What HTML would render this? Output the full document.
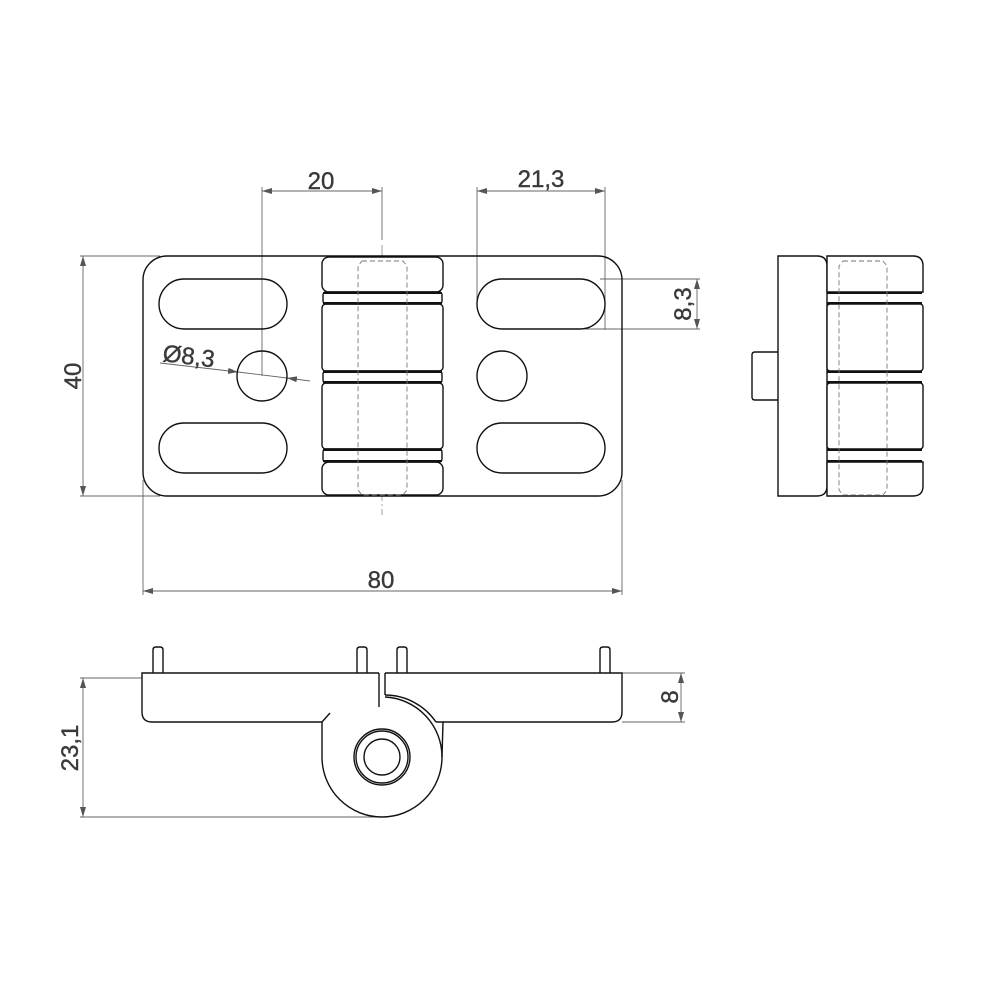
<!DOCTYPE html>
<html><head><meta charset="utf-8"><style>
html,body{margin:0;padding:0;background:#fff}
svg{display:block}
text{font-family:"Liberation Sans",sans-serif;fill:#3a3a3a;font-size:24px;stroke:#3a3a3a;stroke-width:0.4}
</style></head><body>
<svg width="1000" height="1000" viewBox="0 0 1000 1000" xmlns="http://www.w3.org/2000/svg">
<defs>
<marker id="a" viewBox="0 0 10 6" refX="10" refY="3" markerWidth="10" markerHeight="6" orient="auto-start-reverse" markerUnits="userSpaceOnUse"><path d="M0,0 L10,3 L0,6 z" fill="#555"/></marker>
</defs>
<g stroke="#666" stroke-width="0.9" fill="none">
<line x1="262" y1="187" x2="262" y2="376"/>
<line x1="382" y1="187" x2="382" y2="240"/>
<line x1="477" y1="187" x2="477" y2="300"/>
<line x1="605" y1="187" x2="605" y2="330"/>
<line x1="262" y1="191" x2="382" y2="191" marker-start="url(#a)" marker-end="url(#a)"/>
<line x1="477" y1="191" x2="605" y2="191" marker-start="url(#a)" marker-end="url(#a)"/>
<line x1="600" y1="279" x2="700" y2="279"/>
<line x1="580" y1="329" x2="700" y2="329"/>
<line x1="697" y1="279" x2="697" y2="329" marker-start="url(#a)" marker-end="url(#a)"/>
<line x1="80" y1="256" x2="160" y2="256"/>
<line x1="80" y1="496" x2="160" y2="496"/>
<line x1="83" y1="256" x2="83" y2="496" marker-start="url(#a)" marker-end="url(#a)"/>
<line x1="143" y1="480" x2="143" y2="595"/>
<line x1="622" y1="480" x2="622" y2="595"/>
<line x1="143" y1="591" x2="622" y2="591" marker-start="url(#a)" marker-end="url(#a)"/>
<line x1="160" y1="363" x2="238" y2="372" marker-end="url(#a)"/>
<line x1="238" y1="372" x2="287" y2="378"/>
<line x1="310" y1="381" x2="287" y2="378" marker-end="url(#a)"/>
<line x1="80" y1="678" x2="142" y2="678"/>
<line x1="80" y1="817" x2="382" y2="817"/>
<line x1="83" y1="678" x2="83" y2="817" marker-start="url(#a)" marker-end="url(#a)"/>
<line x1="622" y1="673" x2="685" y2="673"/>
<line x1="622" y1="722" x2="685" y2="722"/>
<line x1="681" y1="673" x2="681" y2="722" marker-start="url(#a)" marker-end="url(#a)"/>
<line x1="382" y1="245" x2="382" y2="515" stroke="#999" stroke-dasharray="14,3,2,3"/>
</g>
<text x="321" y="189" text-anchor="middle">20</text>
<text x="541" y="187" text-anchor="middle">21,3</text>
<text x="381" y="588" text-anchor="middle">80</text>
<text transform="translate(81,376) rotate(-90)" text-anchor="middle">40</text>
<text transform="translate(691,304) rotate(-90)" text-anchor="middle">8,3</text>
<text transform="translate(78,748) rotate(-90)" text-anchor="middle">23,1</text>
<text transform="translate(678,697) rotate(-90)" text-anchor="middle">8</text>
<text transform="translate(162,361) rotate(7)">Ø8,3</text>

<g stroke="#111" stroke-width="1.4" fill="none">
<rect x="143" y="256" width="479" height="240" rx="24"/>
<rect x="159" y="279" width="128" height="50" rx="25"/>
<rect x="159" y="423" width="128" height="50" rx="25"/>
<rect x="477" y="279" width="128" height="50" rx="25"/>
<rect x="477" y="423" width="128" height="50" rx="25"/>
<circle cx="262" cy="376" r="25"/>
<circle cx="502" cy="376" r="25"/>
<g fill="#fff">
<rect x="322" y="257" width="121" height="35" rx="7"/>
<rect x="322" y="304" width="121" height="67" rx="4"/>
<rect x="322" y="383" width="121" height="66" rx="4"/>
<rect x="322" y="462" width="121" height="33" rx="7"/>
<rect x="323" y="292" width="119" height="12" rx="3"/>
<rect x="323" y="371" width="119" height="12" rx="3"/>
<rect x="323" y="449" width="119" height="13" rx="3"/>
</g>
<g stroke-width="2">
<line x1="323" y1="293" x2="442" y2="293"/><line x1="323" y1="303" x2="442" y2="303"/>
<line x1="323" y1="372" x2="442" y2="372"/><line x1="323" y1="382" x2="442" y2="382"/>
<line x1="323" y1="450" x2="442" y2="450"/><line x1="323" y1="461" x2="442" y2="461"/>
</g>
<path d="M362,261 L403,261 L407,266 L407,490 L403,495 L362,495 L358,490 L358,266 Z" stroke="#777" stroke-width="0.9" stroke-dasharray="5,3"/>
<path d="M778,256 L817,256 Q827,256 827,266 L827,486 Q827,496 817,496 L778,496 Z"/>
<g fill="#fff">
<path d="M827,256 L913,256 Q923,256 923,266 L923,292 L827,292 Z"/>
<rect x="827" y="304" width="96" height="67" rx="3"/>
<rect x="827" y="383" width="96" height="66" rx="3"/>
<path d="M827,462 L923,462 L923,486 Q923,496 913,496 L827,496 Z"/>
</g>
<path d="M778,352 L755,352 Q752,352 752,355 L752,397 Q752,400 755,400 L778,400"/>
<g stroke-width="2">
<line x1="827" y1="293" x2="922" y2="293"/><line x1="827" y1="303" x2="922" y2="303"/>
<line x1="827" y1="372" x2="922" y2="372"/><line x1="827" y1="382" x2="922" y2="382"/>
<line x1="827" y1="450" x2="922" y2="450"/><line x1="827" y1="461" x2="922" y2="461"/>
</g>
<path d="M843,261 L883,261 L887,266 L887,490 L883,495 L843,495 L839,490 L839,266 Z" stroke="#777" stroke-width="0.9" stroke-dasharray="5,3"/>
<path d="M153,673 L153,650 Q153,647 156,647 L160,647 Q163,647 163,650 L163,673"/>
<path d="M357,673 L357,650 Q357,647 360,647 L364,647 Q367,647 367,650 L367,673"/>
<path d="M397,673 L397,650 Q397,647 400,647 L404,647 Q407,647 407,650 L407,673"/>
<path d="M600,673 L600,650 Q600,647 603,647 L607,647 Q610,647 610,650 L610,673"/>
<path d="M379,673 L142,673 L142,712 Q142,722 152,722 L322,722 L330,713"/>
<path d="M379,673 L379,707"/>
<path d="M385,673 L622,673 L622,712 Q622,722 612,722 L436,722"/>
<path d="M385,673 L385,695"/>
<path d="M322,722 L322,757 A60,60 0 0 0 442,757 L443,722"/>
<path d="M385,695 A62,62 0 0 1 436,722"/>
<path d="M385,697 A60,60 0 0 1 442,757"/>
<circle cx="382" cy="757" r="28"/>
<circle cx="382" cy="757" r="26"/>
<circle cx="382" cy="757" r="18"/>
</g>
</svg>
</body></html>
